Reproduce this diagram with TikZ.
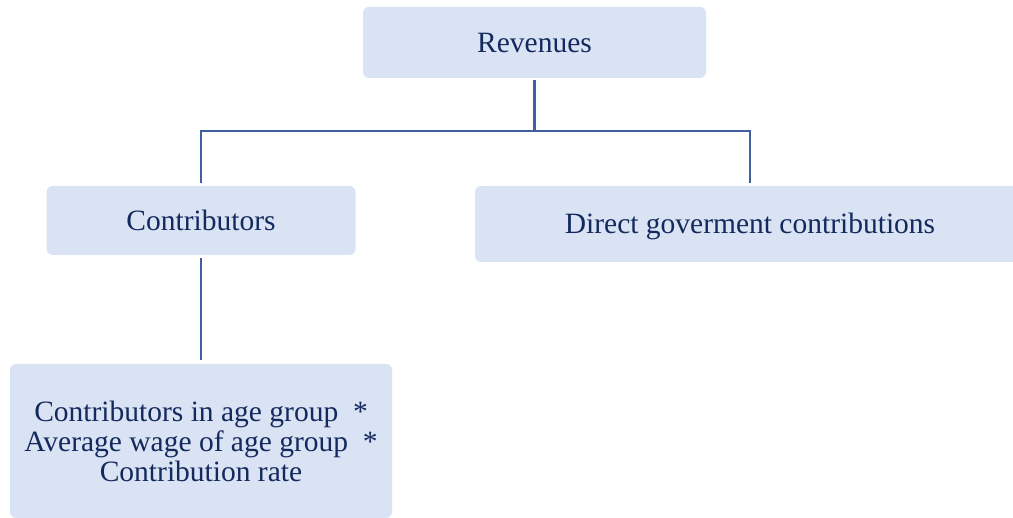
\documentclass[tikz,border=0pt]{standalone}
\usepackage{fontspec}
\setmainfont{Liberation Serif}
\definecolor{boxfill}{HTML}{DAE3F3}
\definecolor{linecol}{HTML}{41609E}
\definecolor{txtcol}{HTML}{142A5E}
\begin{document}
\begin{tikzpicture}[x=1pt,y=-1pt,
  box/.style={fill=boxfill,draw=none,rounded corners=6pt,inner sep=0pt,
    text=txtcol,font=\fontsize{29.5}{30}\selectfont,align=center},
  onel/.style={text height=19.5pt,text depth=0pt},
  conn/.style={draw=linecol,line width=2.9pt}]
\useasboundingbox (0,0) rectangle (1013,518);
\clip (0,0) rectangle (1013,518);
\node[box,onel,minimum width=343pt,minimum height=71pt] (rev) at (534.5,42.5) {Revenues};
\node[box,onel,minimum width=309pt,minimum height=69pt] (contr) at (201,220.5) {Contributors};
\node[box,onel,minimum width=550pt,minimum height=76pt] (direct) at (750,224) {Direct goverment contributions};
\node[box,minimum width=382pt,minimum height=154pt] (detail) at (201,441) {Contributors in age group~~*\\Average wage of age group~~*\\Contribution rate};
\coordinate (bus) at (534,131);
\draw[conn] ([yshift=-2pt]rev.south) -- (rev.south |- bus);
\draw[conn] ([yshift=3pt]contr.north) -- (contr.north |- bus) -- (direct.north |- bus) -- ([yshift=3pt]direct.north);
\draw[conn] ([yshift=-3pt]contr.south) -- ([yshift=4pt]detail.north);
\end{tikzpicture}
\end{document}
